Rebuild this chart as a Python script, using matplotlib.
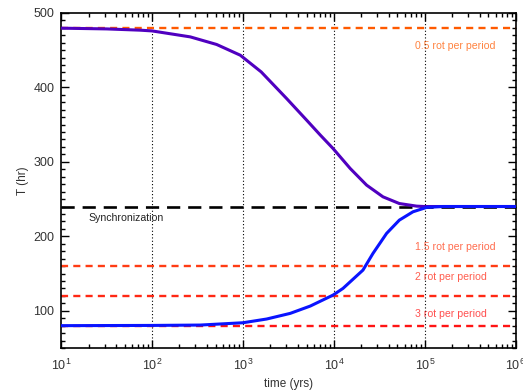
import numpy as np
import matplotlib
matplotlib.use("Agg")
import matplotlib.pyplot as plt
from matplotlib.ticker import MultipleLocator, LogLocator, NullFormatter

plt.rcParams['font.family'] = ['Liberation Sans', 'DejaVu Sans']

# spin-down curve (starts at 0.5 rot per period)
log_t_slow = [1.0, 1.5, 1.87, 2.0, 2.42, 2.71, 2.97, 3.2, 3.48, 3.7, 3.85, 3.99, 4.18,
              4.36, 4.54, 4.72, 4.91, 5.0, 5.3, 6.0]
T_slow = [479.5, 478.5, 476.8, 475.8, 467.8, 457.6, 443.2, 420.8, 385, 356, 336, 318, 291,
          268.7, 253, 244, 240.5, 240, 240, 240]

# spin-up curve (starts at 3 rot per period)
log_t_fast = [1.0, 2.0, 2.53, 3.0, 3.26, 3.52, 3.74, 3.99, 4.1, 4.32, 4.43, 4.58, 4.72,
              4.87, 5.02, 5.2, 6.0]
T_fast = [80, 80.3, 80.8, 83.9, 88.9, 96.5, 106.3, 121, 130, 154.6, 177, 203.9, 221.7,
          232.9, 238.8, 240, 240]

period = 240
resonances = [2.0, 1 / 1.5, 0.5, 1 / 3]   # T / period
res_labels = ['0.5 rot per period', '1.5 rot per period', '2 rot per period', '3 rot per period']
res_colors = ['#ff5a00', '#ff3c14', '#ff2814', '#ff1414']
label_T = [452, 182, 141, 91]

decades = [1e2, 1e3, 1e4, 1e5]

fig, ax = plt.subplots(figsize=(5.23, 3.91), dpi=100)
fig.subplots_adjust(left=0.117, right=0.986, top=0.967, bottom=0.11)

for d in decades:
    ax.axvline(d, color='black', ls=(0, (1, 2)), lw=0.8, zorder=1)

for r, lab, c, ty in zip(resonances, res_labels, res_colors, label_T):
    ax.axhline(period * r, color=c, ls=(0, (3, 2.2)), lw=1.7, zorder=2)
    ax.text(7.9e4, ty, lab, color=c, fontsize=7.6, alpha=0.75)

ax.axhline(period, color='black', ls=(0, (5, 3)), lw=1.9, zorder=2)
ax.text(20, 220, 'Synchronization', color='#222222', fontsize=7.6)

ax.plot(10 ** np.array(log_t_slow), T_slow, color='#5000c0', lw=2.2, zorder=3)
ax.plot(10 ** np.array(log_t_fast), T_fast, color='#0a14ff', lw=2.2, zorder=3)

ax.set_xscale('log')
ax.set_xlim(10, 1e6)
ax.set_ylim(50, 500)
ax.yaxis.set_major_locator(MultipleLocator(100))
ax.yaxis.set_minor_locator(MultipleLocator(10))
ax.xaxis.set_major_locator(LogLocator(base=10))
ax.xaxis.set_minor_locator(LogLocator(base=10, subs=np.arange(2, 10)))
ax.xaxis.set_minor_formatter(NullFormatter())
ax.tick_params(which='both', direction='in', top=True, right=True, labelsize=9,
               labelcolor='#333333', pad=7)
ax.tick_params(axis='y', pad=5)
ax.tick_params(which='major', length=6, width=1)
ax.tick_params(which='minor', length=3, width=1)
for s in ax.spines.values():
    s.set_linewidth(1.2)

ax.set_xlabel('time (yrs)', fontsize=8.5, color='#333333', labelpad=4)
ax.set_ylabel('T (hr)', fontsize=8.5, color='#333333', labelpad=3)

fig.savefig('out.png', dpi=100)
